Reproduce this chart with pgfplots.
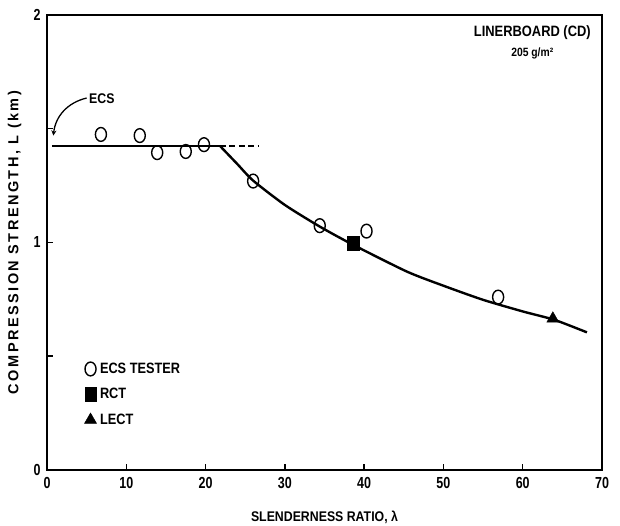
\documentclass[border=0pt]{standalone}
\usepackage{pgfplots}
\pgfplotsset{compat=1.18}
\usepackage{fontspec}
\setmainfont{Liberation Sans}
\newcommand{\cond}[1]{\addfontfeatures{FakeStretch=#1}}
\begin{document}
\begin{tikzpicture}
\begin{axis}[
  scale only axis, width=555pt, height=455pt,
  xmin=0, xmax=70, ymin=0, ymax=2,
  xtick={0,10,...,70}, ytick={0,1,2},
  tick align=inside, xtick pos=left, ytick pos=left,
  major tick length=0pt,
  axis line style={line width=1.8pt},
  /pgf/number format/assume math mode=true,
  ticklabel style={font=\bfseries\fontsize{16}{16}\selectfont\cond{0.78}},
  xticklabel style={yshift=-4pt},
  yticklabel style={xshift=-3pt},
  xlabel={SLENDERNESS RATIO, λ},
  ylabel={COMPRESSION STRENGTH, L (km)},
  xlabel style={font=\bfseries\fontsize{14}{14}\selectfont\cond{0.88},
    at={(axis description cs:0.5,-0.103)}, anchor=center},
  ylabel style={font=\bfseries\fontsize{14.5}{14.5}\selectfont\addfontfeatures{LetterSpace=17},
    at={(axis description cs:-0.0396,0.5)}, anchor=south, rotate=0},
  legend style={at={(axis cs:4.7,0.48)}, anchor=north west, draw=none, fill=none,
    font=\bfseries\fontsize{15}{15}\selectfont\cond{0.85}, row sep=9.5pt,
    legend cell align=left, inner sep=0pt},
  legend image code/.code={\path[draw=none] (0,0) -- (1.05em,0); \draw[#1] (0.3em,0) -- plot coordinates {(0.3em,0)};},
]
\coordinate (ll) at (rel axis cs:0,0);
\coordinate (ur) at (rel axis cs:1,1);
% tick marks (inward)
\pgfplotsinvokeforeach{10,20,30,40,50,60}{\draw[line width=1.5pt] (axis cs:#1,0) -- ++(0,6pt);}
\pgfplotsinvokeforeach{0.5,1,1.5}{\draw[line width=1.5pt] (axis cs:0,#1) -- ++(6pt,0);}
% ECS plateau (solid) and dashed extension
\addplot[black, line width=2.2pt, forget plot] coordinates {(0.6,1.425) (21.8,1.425)};
\addplot[black, line width=2.2pt, dash pattern=on 6pt off 3.5pt, forget plot] coordinates {(21.8,1.425) (26.8,1.425)};
% fitted curve
\addplot[black, line width=2.4pt, smooth, tension=0.4, forget plot] coordinates {
 (21.8,1.425) (24,1.345) (26,1.272) (30,1.165) (34.4,1.07) (38.6,0.99)
 (45.4,0.872) (50,0.81) (55,0.748) (60,0.697) (64,0.66) (68.1,0.605)};
% ECS tester
\addplot[only marks, mark=o, mark size=6pt, line width=1.4pt, black,
  mark options={fill=white, xscale=0.92, yscale=1.15}] coordinates {
 (6.8,1.475) (11.7,1.47) (13.9,1.395) (17.5,1.40) (19.8,1.43)
 (26.0,1.27) (34.4,1.074) (40.3,1.05) (56.9,0.76)};
\addlegendentry{ECS TESTER}
% RCT
\addplot[only marks, mark=square*, mark size=6pt, black, mark options={yscale=1.15, xscale=0.95}] coordinates {(38.6,0.997)};
\addlegendentry{RCT}
% LECT
\addplot[only marks, mark=triangle*, mark size=7pt, black] coordinates {(63.8,0.665)};
\addlegendentry{LECT}
\node[font=\bfseries\fontsize{15}{15}\selectfont\cond{0.86}, anchor=north east, align=center, inner sep=0pt]
  at (axis cs:68.6,1.955) {LINERBOARD (CD)\\[5pt]{\fontsize{12}{12}\selectfont 205 g/m²}};
\node[font=\bfseries\fontsize{14}{14}\selectfont\cond{0.88}, anchor=west, inner sep=0pt] at (axis cs:5.3,1.63) {ECS};
\draw[-stealth, line width=1.3pt] (axis cs:5.0,1.635) to[bend right=35] (axis cs:0.8,1.47);
\end{axis}
\pgfresetboundingbox
\path ([shift={(-47pt,-56pt)}]ll) rectangle ([shift={(18pt,15pt)}]ur);
\end{tikzpicture}
\end{document}
